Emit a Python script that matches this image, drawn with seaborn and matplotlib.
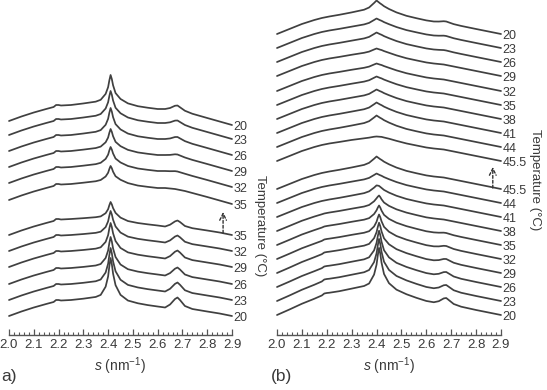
import numpy as np
import pandas as pd
import matplotlib
matplotlib.use("Agg")
import matplotlib.pyplot as plt
import seaborn as sns
from matplotlib.ticker import MultipleLocator, FormatStrFormatter

# =========================
# DATA (intensity in arbitrary units)
# =========================
S = [2.00, 2.05, 2.10, 2.15, 2.18, 2.19, 2.20, 2.21, 2.25, 2.30, 2.35, 2.37,
     2.39, 2.40, 2.405, 2.41, 2.415, 2.42, 2.43, 2.45, 2.48, 2.52, 2.56, 2.60,
     2.63, 2.65, 2.67, 2.68, 2.69, 2.71, 2.74, 2.80, 2.85, 2.90]

# background profiles
BG_A_TOP = [4, 8.5, 12.5, 16, 18, 20, 20, 19.5, 20, 21, 22, 22.5,
            23, 23, 23, 23, 23, 23, 22.5, 22, 20, 18, 17, 16,
            16, 15.5, 15, 14.5, 14, 13, 11, 7, 3.5, 0]
BG_A_BOT = [0, 4.5, 8.5, 12, 14, 16, 16, 15.5, 16, 16.5, 17, 17,
            17, 17, 17, 17, 17, 17, 16.5, 15, 13, 11.5, 10.5, 9.5,
            8.5, 8.5, 8.5, 8.5, 8.5, 7.5, 6.5, 4.5, 2.5, 0]
BG_B = [0, 5, 10, 14, 16, 16.5, 17, 17.5, 19, 21, 22.5, 23,
        23.5, 23.5, 23.5, 23.5, 23.5, 23.5, 23, 22, 20, 17.5, 15.5, 13.5,
        12.5, 12, 11.5, 11, 10.5, 9.5, 8, 5, 2.5, 0]

# unit peak / bump / step shapes
PEAK_SHARP = [0, 0, 0, 0, 0, 0, 0, 0, 0, 0.02, 0.05, 0.1,
              0.3, 0.55, 0.8, 1.0, 0.85, 0.62, 0.35, 0.15, 0.06, 0.03, 0.01, 0,
              0, 0, 0, 0, 0, 0, 0, 0, 0, 0]
PEAK_BROAD = [0, 0, 0, 0, 0, 0, 0, 0, 0.02, 0.06, 0.18, 0.35,
              0.75, 1.0, 0.9, 0.8, 0.7, 0.62, 0.48, 0.3, 0.16, 0.07, 0.03, 0.01,
              0, 0, 0, 0, 0, 0, 0, 0, 0, 0]
BUMP = [0, 0, 0, 0, 0, 0, 0, 0, 0, 0, 0, 0,
        0, 0, 0, 0, 0, 0, 0, 0, 0, 0, 0, 0,
        0, 0.3, 0.85, 1.0, 0.75, 0.25, 0.05, 0, 0, 0]
STEP = [0, 0.1, 0.25, 0.45, 0.7, 1.0, 1.0, 0.95, 0.95, 0.9, 0.85, 0.8,
        0.8, 0.8, 0.8, 0.8, 0.8, 0.8, 0.75, 0.7, 0.55, 0.4, 0.25, 0.1,
        0.05, 0, 0, 0, 0, 0, 0, 0, 0, 0]

# panel (a)
TEMPS_A_TOP = ['20', '23', '26', '29', '32', '35']
BASE_A_TOP = [210, 196, 180, 164, 148, 131]
PEAK_AMP_A_TOP = [27, 25, 24, 19, 17, 15]
BUMP_AMP_A_TOP = [5, 4, 3.5, 2, 1, 0]

TEMPS_A_BOT = ['35', '32', '29', '26', '23', '20']
BASE_A_BOT = [100, 84, 68, 51, 35, 19]
PEAK_AMP_A_BOT = [16, 23, 27, 30, 35, 41]
BUMP_AMP_A_BOT = [6, 7, 8, 8, 9, 10]

# panel (b)
TEMPS_B_TOP = ['20', '23', '26', '29', '32', '35', '38', '41', '44', '45.5']
BASE_B_TOP = [301, 287, 273, 259, 244, 230, 216, 202, 188, 174]
BROAD_AMP_B_TOP = [10, 6, 6, 4, 4, 5, 6, 7, 8, 1]
BUMP_AMP_B_TOP = [1.5, 1, 0.5, 0, 0, 0, 0, 0, 0, 0]

TEMPS_B_BOT = ['45.5', '44', '41', '38', '35', '32', '29', '26', '23', '20']
BASE_B_BOT = [146, 132, 118, 104, 90, 76, 62, 48, 34, 20]
BROAD_AMP_B_BOT = [9, 6, 7, 4, 3, 2, 2, 2, 2, 2]
SHARP_AMP_B_BOT = [0, 0, 2, 8, 12, 17, 22, 28, 33, 38]
STEP_AMP_B_BOT = [0, 0, 0, 1, 2, 3, 4, 4, 5, 5]
BUMP_AMP_B_BOT = [0, 0, 0, 0, 1, 2, 3, 4, 5, 6]

XTICKS = [2.0, 2.1, 2.2, 2.3, 2.4, 2.5, 2.6, 2.7, 2.8, 2.9]

# =========================
# BUILD CURVES
# =========================
s = np.array(S)


def make_frame(bases, temps, parts):
    rows = []
    for i, (b, t) in enumerate(zip(bases, temps)):
        y = np.full(len(s), float(b))
        for shape, amps in parts:
            y = y + amps[i] * np.array(shape, dtype=float)
        rows.append(pd.DataFrame({"s": s, "I": y, "curve": f"{t}_{i}"}))
    return pd.concat(rows, ignore_index=True)


one_a = [1] * 6
one_b = [1] * 10
df_a = pd.concat([
    make_frame(BASE_A_TOP, TEMPS_A_TOP, [(BG_A_TOP, one_a), (PEAK_SHARP, PEAK_AMP_A_TOP), (BUMP, BUMP_AMP_A_TOP)]).assign(g="top"),
    make_frame(BASE_A_BOT, TEMPS_A_BOT, [(BG_A_BOT, one_a), (PEAK_SHARP, PEAK_AMP_A_BOT), (BUMP, BUMP_AMP_A_BOT)]).assign(g="bot"),
])
df_b = pd.concat([
    make_frame(BASE_B_TOP, TEMPS_B_TOP, [(BG_B, one_b), (PEAK_BROAD, BROAD_AMP_B_TOP), (BUMP, BUMP_AMP_B_TOP)]).assign(g="top"),
    make_frame(BASE_B_BOT, TEMPS_B_BOT, [(BG_B, one_b), (PEAK_BROAD, BROAD_AMP_B_BOT), (PEAK_SHARP, SHARP_AMP_B_BOT),
                                         (STEP, STEP_AMP_B_BOT), (BUMP, BUMP_AMP_B_BOT)]).assign(g="bot"),
])
df_a["key"] = df_a["g"] + df_a["curve"]
df_b["key"] = df_b["g"] + df_b["curve"]

# =========================
# PLOT
# =========================
sns.set_theme(style="white")
plt.rcParams['font.family'] = ['Liberation Sans', 'DejaVu Sans']
plt.rcParams['mathtext.fontset'] = 'custom'
plt.rcParams['mathtext.rm'] = 'Liberation Sans'
plt.rcParams['mathtext.it'] = 'Liberation Sans:italic'

LINE = '#404040'
TXT = '#3a3a3a'

W, H = 547, 390
fig = plt.figure(figsize=(W / 100, H / 100), dpi=100)
ax_a = fig.add_axes([9 / W, 55 / H, 223 / W, 335 / H])
ax_b = fig.add_axes([277 / W, 55 / H, 224 / W, 335 / H])

panels = [
    (ax_a, df_a, [(BASE_A_TOP, TEMPS_A_TOP), (BASE_A_BOT, TEMPS_A_BOT)], (3.015, 109), (2.864, 102, 123)),
    (ax_b, df_b, [(BASE_B_TOP, TEMPS_B_TOP), (BASE_B_BOT, TEMPS_B_BOT)], (3.036, 155), (2.867, 147, 168)),
]

for ax, df, groups, temp_pos, arrow in panels:
    sns.lineplot(data=df, x="s", y="I", units="key", estimator=None, color=LINE,
                 linewidth=1.25, ax=ax, legend=False)
    for line in ax.lines:
        line.set_clip_on(False)
        line.set_solid_joinstyle('round')
    ax.set_xlim(2.0, 2.9)
    ax.set_ylim(0, 335)
    for side in ["left", "right", "top"]:
        ax.spines[side].set_visible(False)
    ax.spines["bottom"].set_color('#555555')
    ax.spines["bottom"].set_linewidth(1.0)
    ax.set_yticks([])
    ax.set_xticks(XTICKS)
    ax.xaxis.set_major_formatter(FormatStrFormatter('%.1f'))
    ax.xaxis.set_minor_locator(MultipleLocator(0.02))
    ax.tick_params(axis='x', which='major', direction='in', length=4, width=0.9,
                   color='#555555', labelsize=9.5, labelcolor=TXT, pad=3, bottom=True)
    ax.tick_params(axis='x', which='minor', direction='in', length=2.2, width=0.8,
                   color='#555555', bottom=True)
    ax.set_ylabel("")
    ax.set_xlabel(r'$\mathit{s}$ (nm$^{-1}$)', fontsize=10, color=TXT, labelpad=3)

    for bases, temps in groups:
        for b, t in zip(bases, temps):
            ax.text(2.906, b - 2, t, fontsize=9, color=TXT, ha='left', va='center',
                    clip_on=False)

    ax.text(temp_pos[0], temp_pos[1], 'Temperature (°C)', rotation=-90, fontsize=9.5,
            color=TXT, ha='center', va='center', clip_on=False)
    ax.annotate('', xy=(arrow[0], arrow[2]), xytext=(arrow[0], arrow[1]),
                arrowprops=dict(arrowstyle='->', linestyle=(0, (2, 1.5)), color='#333333',
                                lw=1.0, shrinkA=0, shrinkB=0),
                annotation_clip=False)

fig.text(1 / W, 1 - 376 / H, 'a)', fontsize=12.5, color=TXT, ha='left', va='center')
fig.text(271 / W, 1 - 376 / H, '(b)', fontsize=12.5, color=TXT, ha='left', va='center')

fig.savefig("out.png", dpi=100)
